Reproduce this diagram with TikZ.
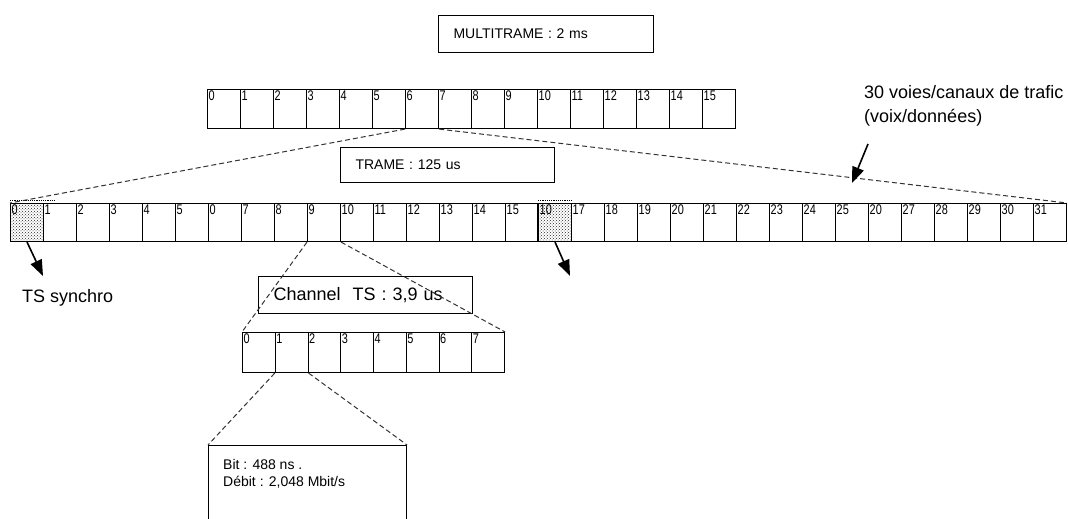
\documentclass[tikz,border=0pt]{standalone}
\usepackage{fontspec}
\setmainfont{Liberation Sans}
\newfontfamily\narrowfont[FakeStretch=0.78]{Liberation Sans}
\usetikzlibrary{arrows.meta,patterns}
\tikzset{
  cell/.style={draw,line width=1.1pt,minimum width=33pt,minimum height=38pt,inner sep=0pt,anchor=north west},
  num/.style={anchor=north west,inner xsep=1.5pt,inner ysep=2pt,font=\narrowfont\fontsize{14}{15}\selectfont},
  shaded/.style={pattern=crosshatch dots,pattern color=black!85},
  titlebox/.style={draw,line width=1.1pt,anchor=north west,inner xsep=15pt,inner ysep=0pt,align=left,font=\fontsize{14}{16}\selectfont},
  zoomline/.style={dash pattern=on 5pt off 3pt,line width=1pt,black!80},
  pointer/.style={-{Triangle[length=16pt,width=12pt]},line width=1.6pt},
}
\begin{document}
\begin{tikzpicture}[x=1pt,y=-1pt]
    \useasboundingbox (0,0) rectangle (1068,519);
    \node[titlebox,minimum height=37pt,text width=185pt] (multi) at (438,15) {MULTITRAME : 2 ms};
    \foreach \i in {0,...,15} {
        \node[cell,minimum height=39pt] (m\i) at ({207+33*\i},89) {};
        \node[num] (ml\i) at (m\i.north west) {\i};
    }
    \node[titlebox,minimum height=35pt,text width=184pt] (trame) at (340,147) {TRAME : 125 us};
    \foreach \t/\s [count=\i from 0] in {0/shaded,1/,2/,3/,4/,5/,0/,7/,8/,9/,10/,11/,12/,13/,14/,15/,10/shaded,17/,18/,19/,20/,21/,22/,23/,24/,25/,20/,27/,28/,29/,30/,31/} {
        \node[cell,\s] (t\i) at ({10+33*\i},203) {};
        \node[num] (tl\i) at (t\i.north west) {\t};
    }
    \draw[densely dotted,line width=1.2pt] ([yshift=2.5pt]t0.north west) -- ([shift={(12pt,2.5pt)}]t0.north east);
    \draw[densely dotted,line width=1.2pt] ([yshift=2.5pt]t16.north west) -- ([yshift=2.5pt]t16.north east);
    \draw[line width=2pt] (t16.north west) -- (t16.south west);
    \draw[zoomline] (m6.south west) -- (t0.north west);
    \draw[zoomline] (m6.south east) -- (t31.north east);
    \node[anchor=north west,align=left,inner sep=0pt,font=\fontsize{18}{24}\selectfont] (voies) at (864,85) {30 voies/canaux de trafic\\(voix/données)};
    \coordinate (voiestail) at (868,144);
    \coordinate (voiestip) at (852,183);
    \draw[pointer] (voiestail) -- (voiestip);
    \coordinate (synctip) at (43,276);
    \draw[pointer] (t0.south) -- (synctip);
    \coordinate (sigtip) at (570,276);
    \draw[pointer] (t16.south) -- (sigtip);
    \node[anchor=west,inner sep=0pt,font=\fontsize{18}{20}\selectfont] (synchro) at (22,298) {TS synchro};
    \foreach \i in {0,...,7} {
        \node[cell,minimum width=32.75pt,minimum height=40pt] (b\i) at ({242+32.75*\i},332) {};
        \node[num] (bl\i) at (b\i.north west) {\i};
    }
    \node[titlebox,minimum height=37pt,text width=184pt,font=\fontsize{18}{20}\selectfont] (channel) at (258,276) {Channel~ TS : 3,9 us};
    \draw[zoomline] (t9.south west) -- (b0.north west);
    \draw[zoomline] (t9.south east) -- (b7.north east);
    \node[draw,line width=1.1pt,anchor=north west,minimum width=198pt,minimum height=100pt] (bitbox) at (208,445) {};
    \node[anchor=north west,align=left,inner sep=0pt,font=\fontsize{14}{17}\selectfont] (bittext) at (223,459) {Bit : 488 ns .\\Débit : 2,048 Mbit/s};
    \draw[zoomline] (b1.south west) -- (bitbox.north west);
    \draw[zoomline] (b1.south east) -- (bitbox.north east);
\end{tikzpicture}
\end{document}
